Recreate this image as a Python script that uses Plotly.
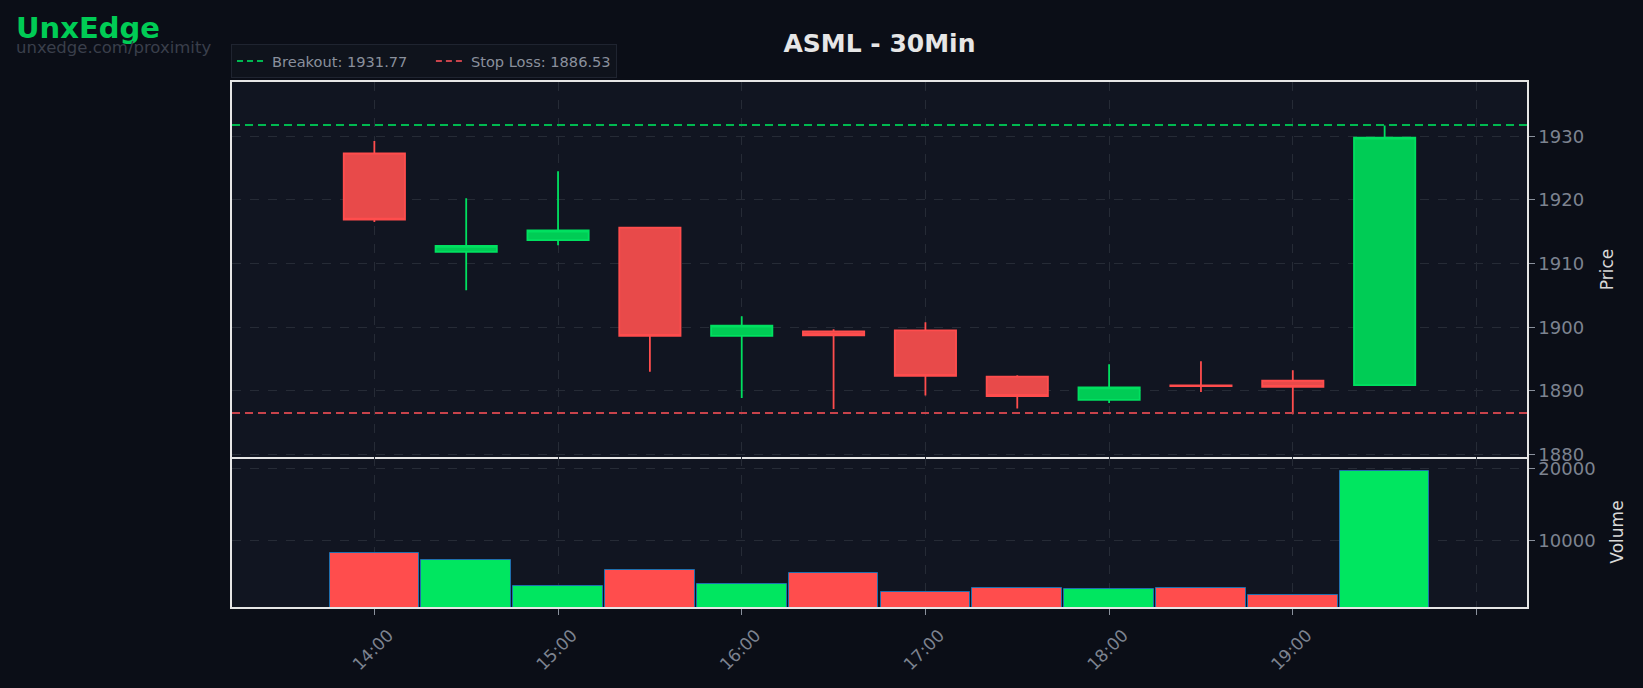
import plotly.graph_objects as go
from plotly.subplots import make_subplots
import pandas as pd

# ---- data ----
times = ["14:00", "14:30", "15:00", "15:30", "16:00", "16:30",
         "17:00", "17:30", "18:00", "18:30", "19:00", "19:30"]
opens  = [1927.30, 1911.85, 1913.70, 1915.65, 1898.65, 1899.35,
          1899.50, 1892.25, 1888.60, 1890.85, 1891.60, 1890.90]
highs  = [1929.25, 1920.25, 1924.50, 1915.65, 1901.75, 1899.70,
          1900.80, 1892.45, 1894.20, 1894.65, 1893.25, 1931.70]
lows   = [1916.55, 1905.80, 1912.90, 1893.00, 1888.90, 1887.15,
          1889.30, 1887.25, 1888.10, 1889.85, 1886.35, 1890.90]
closes = [1916.90, 1912.80, 1915.20, 1898.65, 1900.25, 1898.75,
          1892.35, 1889.20, 1890.55, 1890.75, 1890.65, 1929.80]
volumes = [8240, 7270, 3640, 5870, 3920, 5450, 2800, 3360, 3220, 3360, 2390, 19680]

tick_times = ["14:00", "15:00", "16:00", "17:00", "18:00", "19:00", "20:00"]
tick_labels = ["14:00", "15:00", "16:00", "17:00", "18:00", "19:00", ""]

breakout = 1931.77
stop_loss = 1886.53
title = "ASML - 30Min"
day = "2024-06-14"

# ---- styles ----
PAPER = "#0b0e17"
PLOT = "#111521"
GRID = "#262b36"
TICK = "#7d8390"
SPINE = "#e6e6e6"
FONT = "DejaVu Sans"
RED_FILL, RED_EDGE = "#e84a4a", "#ff4d4d"
GRN_FILL, GRN_EDGE = "#00cc55", "#00e060"
VOL_RED, VOL_GRN = "#ff4d4d", "#00e660"

x = pd.to_datetime([f"{day} {t}" for t in times])
xt = pd.to_datetime([f"{day} {t}" for t in tick_times])
step = x[1] - x[0]
pad = step * 1.55

fig = make_subplots(rows=2, cols=1, shared_xaxes=True, vertical_spacing=0,
                    row_heights=[0.7143, 0.2857])

fig.add_trace(go.Candlestick(
    x=x, open=opens, high=highs, low=lows, close=closes,
    increasing=dict(fillcolor=GRN_FILL, line=dict(color=GRN_EDGE, width=1.8)),
    decreasing=dict(fillcolor=RED_FILL, line=dict(color=RED_EDGE, width=1.8)),
    showlegend=False, hoverinfo="skip"), row=1, col=1)

vcolors = [VOL_GRN if c >= o else VOL_RED for o, c in zip(opens, closes)]
fig.add_trace(go.Bar(
    x=x, y=volumes, marker=dict(color=vcolors, line=dict(color="#1f6fae", width=1)),
    width=step.total_seconds() * 1000 * 0.975, showlegend=False, hoverinfo="skip"),
    row=2, col=1)

# level lines
BO_COL, SL_COL = "#00b850", "#c8434b"
for val, col in [(breakout, BO_COL), (stop_loss, SL_COL)]:
    fig.add_shape(type="line", xref="x domain", x0=0, x1=1, yref="y", y0=val, y1=val,
                  line=dict(color=col, width=2, dash="8px,5px"), layer="above")

fig.add_trace(go.Scatter(x=[None], y=[None], mode="lines", name=f"Breakout: {breakout:.2f}    ",
                         line=dict(color=BO_COL, width=2, dash="6px,4px")), row=1, col=1)
fig.add_trace(go.Scatter(x=[None], y=[None], mode="lines", name=f"Stop Loss: {stop_loss:.2f}",
                         line=dict(color=SL_COL, width=2, dash="6px,4px")), row=1, col=1)

W, H = 1643, 688
ml, mr, mt, mb = 232, 116, 82, 81
pw, ph = W - ml - mr, H - mt - mb

def px(xp):
    return (xp - ml) / pw

def py(yp):
    return (H - mb - yp) / ph

fig.update_layout(
    width=W, height=H,
    margin=dict(l=ml, r=mr, t=mt, b=mb),
    paper_bgcolor=PAPER, plot_bgcolor=PLOT,
    font=dict(family=FONT, color=TICK),
    boxgap=0.333, boxgroupgap=0,
    bargap=0,
    title=dict(text=f"<b>{title}</b>", x=0.5, xref="paper", xanchor="center",
               y=1 - 43 / H, yref="container", yanchor="middle",
               font=dict(family=FONT, size=25, color="#e6e6e6")),
    legend=dict(orientation="h", x=px(231), xanchor="left", y=py(78), yanchor="bottom",
                bgcolor="#0f131c", bordercolor="#1f2430", borderwidth=1,
                font=dict(family=FONT, size=14.6, color="#8a909c"),
                itemwidth=30, tracegroupgap=0),
    annotations=[
        dict(text="<b>UnxEdge</b>", xref="paper", yref="paper", x=px(14), y=py(28),
             xanchor="left", yanchor="middle", showarrow=False,
             font=dict(family=FONT, size=29, color="#00cc55")),
        dict(text="unxedge.com/proximity", xref="paper", yref="paper", x=px(14), y=py(47),
             xanchor="left", yanchor="middle", showarrow=False,
             font=dict(family=FONT, size=16.5, color="#3a3f4b")),
    ],
)

xrange = [x[0] - pad, x[-1] + pad]
common_x = dict(range=xrange, showgrid=True, gridcolor=GRID, griddash="dash", gridwidth=1,
                tickmode="array", tickvals=xt, ticktext=tick_labels,
                showline=True, linecolor=SPINE, linewidth=1.5,
                zeroline=False, rangeslider=dict(visible=False))
fig.update_xaxes(**common_x)
fig.update_xaxes(ticks="", mirror=True, row=1, col=1)
fig.update_xaxes(mirror=False, ticks="outside", ticklen=6, tickcolor="#8a909c", tickwidth=1,
                 tickangle=-45, ticklabelshift=14, ticklabelstandoff=4,
                 tickfont=dict(family=FONT, size=17, color=TICK), row=2, col=1)

common_y = dict(side="right", showgrid=True, gridcolor=GRID, griddash="dash", gridwidth=1,
                showline=True, mirror=True, linecolor=SPINE, linewidth=1.5, zeroline=False,
                ticks="outside", ticklen=6, tickcolor="#8a909c", tickwidth=1,
                tickfont=dict(family=FONT, size=18, color=TICK))
fig.update_yaxes(**common_y)
fig.update_yaxes(range=[1879.62, 1938.53], dtick=10, tick0=1880,
                 title=dict(text="Price", standoff=18, font=dict(family=FONT, size=17, color="#d8d8d8")),
                 row=1, col=1)
fig.update_yaxes(range=[0.3 * min(volumes), 1.1 * max(volumes)], dtick=10000, tick0=0,
                 tickformat="d",
                 title=dict(text="Volume", standoff=16, font=dict(family=FONT, size=17, color="#d8d8d8")),
                 row=2, col=1)

fig.write_html("out.html", config={"displayModeBar": False},
               post_script="document.body.style.margin='0';document.body.style.background='#0b0e17';document.body.style.overflow='hidden';")
